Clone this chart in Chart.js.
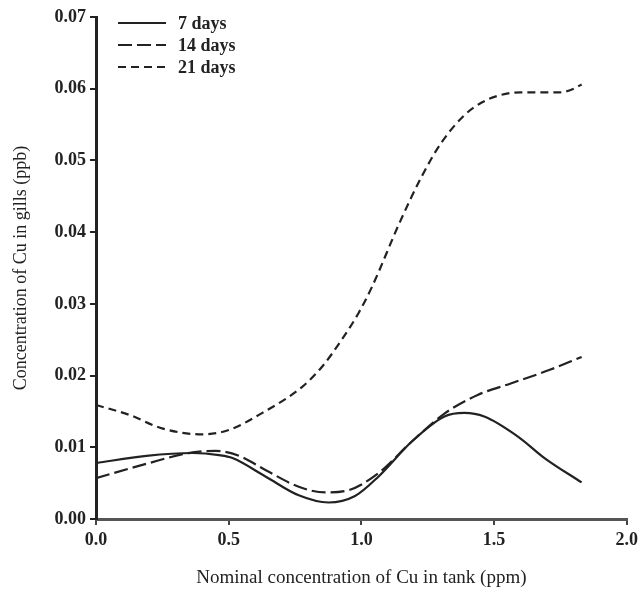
<!DOCTYPE html>
<html>
<head>
<meta charset="utf-8">
<script src="https://cdn.jsdelivr.net/npm/chart.js@4"></script>
<style>
  html, body { margin: 0; padding: 0; background: #fff; }
  #wrap { width: 643px; height: 590px; }
</style>
</head>
<body>
<div id="wrap"><canvas id="chart" width="643" height="590"></canvas></div>
<script>
// nominal Cu concentration (ppm) and gill Cu (ppb)
const seriesLabels = ["7 days", "14 days", "21 days"];

const x7 = [0, 0.19, 0.364, 0.464, 0.514, 0.64, 0.764, 0.876, 0.976, 1.064, 1.19, 1.313, 1.388, 1.463, 1.59, 1.69, 1.83];
const y7 = [0.0078, 0.0088, 0.0092, 0.0089, 0.0085, 0.0059, 0.0033, 0.0023, 0.0032, 0.0059, 0.0108, 0.0143, 0.0148, 0.0143, 0.0115, 0.0085, 0.0051];

const x14 = [0, 0.19, 0.364, 0.45, 0.54, 0.64, 0.764, 0.864, 0.95, 1.064, 1.19, 1.313, 1.438, 1.563, 1.71, 1.83];
const y14 = [0.0057, 0.0077, 0.0093, 0.0095, 0.0088, 0.0068, 0.0045, 0.0037, 0.0040, 0.0064, 0.0108, 0.0147, 0.0173, 0.0189, 0.0208, 0.0226];

const x21 = [0, 0.127, 0.252, 0.40, 0.50, 0.627, 0.776, 0.851, 0.926, 0.989, 1.039, 1.145, 1.225, 1.30, 1.388, 1.45, 1.513, 1.60, 1.675, 1.75, 1.80, 1.83];
const y21 = [0.0159, 0.0145, 0.0126, 0.0118, 0.0124, 0.0148, 0.0184, 0.0212, 0.025, 0.0287, 0.0323, 0.0414, 0.0476, 0.0524, 0.0563, 0.058, 0.059, 0.0595, 0.0595, 0.0595, 0.060, 0.0606];

const xTicks = [0, 0.5, 1.0, 1.5, 2.0];
const yTicks = [0, 0.01, 0.02, 0.03, 0.04, 0.05, 0.06, 0.07];

const ink = "#222";
const serif = "'Liberation Serif', 'Times New Roman', serif";

function pts(xs, ys) {
  return xs.map((x, i) => ({ x: x, y: ys[i] }));
}

function line(label, xs, ys, dash) {
  return {
    label: label,
    data: pts(xs, ys),
    borderColor: ink,
    borderWidth: 2.2,
    borderDash: dash,
    pointRadius: 0,
    fill: false,
    cubicInterpolationMode: "monotone"
  };
}

// legend drawn inside the plot, top-left, like the original
const insideLegend = {
  id: "insideLegend",
  afterDraw(chart) {
    const ctx = chart.ctx;
    const x0 = 118, x1 = 166, tx = 178;
    const rows = [23, 45, 67];
    ctx.save();
    chart.data.datasets.forEach((ds, i) => {
      const y = rows[i];
      ctx.strokeStyle = ds.borderColor;
      ctx.lineWidth = ds.borderWidth;
      ctx.setLineDash(ds.borderDash || []);
      ctx.beginPath();
      ctx.moveTo(x0, y);
      ctx.lineTo(x1, y);
      ctx.stroke();
      ctx.setLineDash([]);
      ctx.fillStyle = ink;
      ctx.font = "bold 18px " + serif;
      ctx.textBaseline = "middle";
      ctx.fillText(ds.label, tx, y + 1);
    });
    ctx.restore();
  }
};

new Chart(document.getElementById("chart").getContext("2d"), {
  type: "line",
  data: {
    datasets: [
      line(seriesLabels[0], x7, y7, []),
      line(seriesLabels[1], x14, y14, [14, 5]),
      line(seriesLabels[2], x21, y21, [8, 5])
    ]
  },
  options: {
    responsive: false,
    animation: false,
    layout: { padding: { top: 17, right: 13, left: 0, bottom: 0 } },
    plugins: { legend: { display: false }, tooltip: { enabled: false } },
    scales: {
      x: {
        type: "linear",
        min: 0,
        max: 2,
        afterBuildTicks: axis => { axis.ticks = xTicks.map(v => ({ value: v })); },
        afterFit: axis => { axis.height = 71; },
        grid: { drawOnChartArea: false, drawTicks: true, tickLength: 6, color: "#444", lineWidth: 2 },
        border: { display: true, color: "#555", width: 3 },
        ticks: {
          color: ink,
          padding: 5,
          font: { family: serif, size: 18, weight: "bold" },
          callback: v => v.toFixed(1)
        },
        title: {
          display: true,
          text: "Nominal concentration of Cu in tank (ppm)",
          color: ink,
          font: { family: serif, size: 19 },
          padding: { top: 0, bottom: 1 }
        }
      },
      y: {
        type: "linear",
        min: 0,
        max: 0.07,
        afterBuildTicks: axis => { axis.ticks = yTicks.map(v => ({ value: v })); },
        afterFit: axis => { axis.width = 96; },
        grid: { drawOnChartArea: false, drawTicks: true, tickLength: 6, color: ink, lineWidth: 2 },
        border: { display: true, color: ink, width: 3 },
        ticks: {
          color: ink,
          padding: 4,
          font: { family: serif, size: 18, weight: "bold" },
          callback: v => v.toFixed(2)
        },
        title: {
          display: true,
          text: "Concentration of Cu in gills (ppb)",
          color: ink,
          font: { family: serif, size: 18 },
          padding: { top: 10, bottom: 0 }
        }
      }
    }
  },
  plugins: [insideLegend]
});
</script>
</body>
</html>
